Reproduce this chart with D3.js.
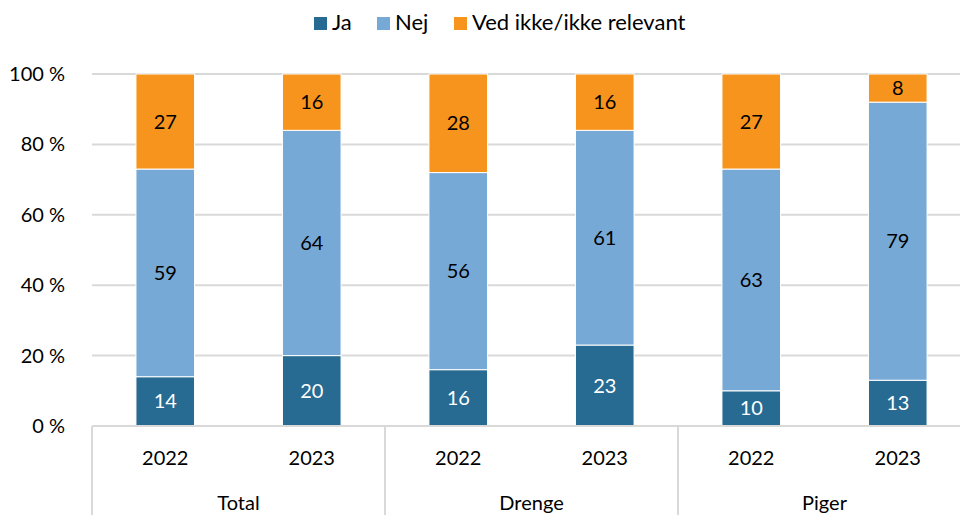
<!DOCTYPE html>
<html>
<head>
<meta charset="utf-8">
<script src="https://cdn.jsdelivr.net/npm/d3@7"></script>
<style>
  body { margin: 0; background: #fff; }
  svg { font-family: Lato, "Open Sans", sans-serif; }
</style>
</head>
<body>
<svg id="chart"></svg>
<script>
const width = 960;
const height = 515;

// data
const groups = ["Total", "Drenge", "Piger"];
const years = ["2022", "2023"];
const seriesNames = ["Ja", "Nej", "Ved ikke/ikke relevant"];
const ja = [14, 20, 16, 23, 10, 13];
const nej = [59, 64, 56, 61, 63, 79];
const vedIkke = [27, 16, 28, 16, 27, 8];
const yTicks = [0, 20, 40, 60, 80, 100];

const colors = ["#276a92", "#77a9d7", "#f7941d"];
const labelColors = ["#fff", "#000", "#000"];

const margin = { left: 92, top: 74, bottom: 89 };
const plotW = 879;
const plotH = height - margin.top - margin.bottom;
const fs = 20;

const svg = d3.select('svg#chart').attr('width', width).attr('height', height);

var rows = [];
groups.forEach((g, gi) => {
  years.forEach((y, yi) => {
    var i = gi * years.length + yi;
    rows.push({ key: g + "|" + y, group: g, year: y, Ja: ja[i], Nej: nej[i], "Ved ikke/ikke relevant": vedIkke[i] });
  });
});

var stacked = d3.stack().keys(seriesNames)(rows);

var xScale = d3.scaleBand()
  .domain(rows.map(d => d.key))
  .range([margin.left, margin.left + plotW])
  .paddingInner(0.6)
  .paddingOuter(0.3);

var yScale = d3.scaleLinear()
  .domain([0, 100])
  .range([margin.top + plotH, margin.top]);

// gridlines + y labels
svg.append('g')
  .selectAll('line')
  .data(yTicks.filter(d => d > 0))
  .enter().append('line')
    .attr('x1', margin.left)
    .attr('x2', width)
    .attr('y1', d => yScale(d))
    .attr('y2', d => yScale(d))
    .attr('stroke', '#d9d9d9')
    .attr('stroke-width', 2);

var yAxis = svg.append('g')
  .attr('transform', 'translate(' + (margin.left - 24) + ',0)')
  .call(d3.axisLeft(yScale).tickValues(yTicks).tickFormat(d => d + ' %').tickSize(0));
yAxis.select('.domain').remove();
yAxis.selectAll('text')
  .attr('font-size', fs)
  .attr('font-family', 'Lato, sans-serif')
  .attr('fill', '#000')
  .attr('dx', 0);

// bars
var layer = svg.append('g').selectAll('g')
  .data(stacked)
  .enter().append('g')
    .attr('fill', (d, i) => colors[i]);

layer.selectAll('rect')
  .data(d => d)
  .enter().append('rect')
    .attr('x', d => xScale(d.data.key))
    .attr('y', d => yScale(d[1]))
    .attr('width', xScale.bandwidth())
    .attr('height', d => yScale(d[0]) - yScale(d[1]))
    .attr('stroke', '#fff')
    .attr('stroke-width', 1);

// value labels
stacked.forEach((s, si) => {
  svg.append('g').selectAll('text')
    .data(s)
    .enter().append('text')
      .attr('x', d => xScale(d.data.key) + xScale.bandwidth() / 2)
      .attr('y', d => (yScale(d[0]) + yScale(d[1])) / 2)
      .attr('dy', '0.35em')
      .attr('text-anchor', 'middle')
      .attr('font-size', fs)
      .attr('fill', labelColors[si])
      .text(d => d[1] - d[0]);
});

// x axis line and group separators
var baseY = yScale(0);
svg.append('line')
  .attr('x1', margin.left).attr('x2', width)
  .attr('y1', baseY).attr('y2', baseY)
  .attr('stroke', '#d9d9d9').attr('stroke-width', 2);

var groupW = plotW / groups.length;
var sepX = d3.range(groups.length + 1).map(i => margin.left + i * groupW);
svg.append('g').selectAll('line')
  .data(sepX)
  .enter().append('line')
    .attr('x1', d => d).attr('x2', d => d)
    .attr('y1', baseY).attr('y2', height)
    .attr('stroke', '#d9d9d9').attr('stroke-width', 2);

// year labels
svg.append('g').selectAll('text')
  .data(rows)
  .enter().append('text')
    .attr('x', d => xScale(d.key) + xScale.bandwidth() / 2)
    .attr('y', baseY + 39)
    .attr('text-anchor', 'middle')
    .attr('font-size', fs)
    .text(d => d.year);

// group labels
svg.append('g').selectAll('text')
  .data(groups)
  .enter().append('text')
    .attr('x', (d, i) => margin.left + (i + 0.5) * groupW)
    .attr('y', baseY + 84)
    .attr('text-anchor', 'middle')
    .attr('font-size', fs)
    .text(d => d);

// legend
var legendX = [314, 377, 454];
var legend = svg.append('g').selectAll('g')
  .data(seriesNames)
  .enter().append('g')
    .attr('transform', (d, i) => 'translate(' + legendX[i] + ',17)');
legend.append('rect')
  .attr('width', 13).attr('height', 13)
  .attr('fill', (d, i) => colors[i]);
legend.append('text')
  .attr('x', 18).attr('y', 13)
  .attr('font-size', 22)
  .text(d => d);
</script>
</body>
</html>
